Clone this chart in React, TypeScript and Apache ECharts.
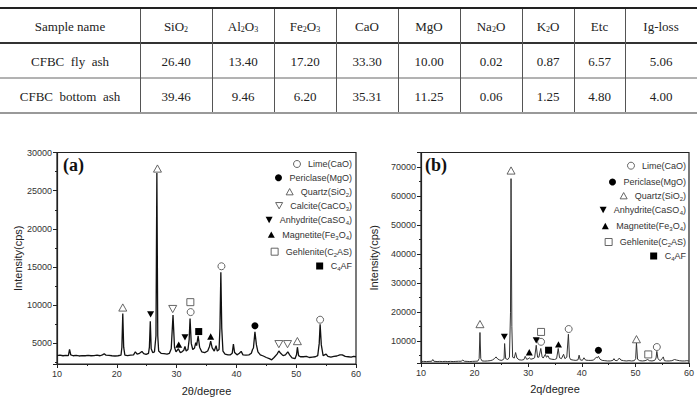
import React, { useEffect, useRef } from 'react';
import * as echarts from 'echarts';

// ---------- Table data ----------
const tableHeaders = ['Sample name', 'SiO{s|2}', 'Al{s|2}O{s|3}', 'Fe{s|2}O{s|3}', 'CaO', 'MgO', 'Na{s|2}O', 'K{s|2}O', 'Etc', 'Ig-loss'];
const sampleNames = ['CFBC  fly  ash', 'CFBC  bottom  ash'];
const flyAshValues = [26.40, 13.40, 17.20, 33.30, 10.00, 0.02, 0.87, 6.57, 5.06];
const bottomAshValues = [39.46, 9.46, 6.20, 35.31, 11.25, 0.06, 1.25, 4.80, 4.00];

// ---------- XRD patterns ----------
const patternA = [
  [10, 3400], [10.5, 3450], [11, 3380], [11.5, 3420], [11.9, 3400], [12.1, 4200], [12.3, 3500], [12.7, 3380], [13.2, 3420], [13.7, 3350],
  [14.2, 3400], [14.7, 3380], [15.2, 3420], [15.7, 3380], [16.2, 3400], [16.7, 3450], [17.2, 3380], [17.6, 3500], [17.9, 3650], [18.2, 3450],
  [18.7, 3420], [19.2, 3380], [19.7, 3350], [20.2, 3380], [20.7, 3450], [20.85, 4500], [21.0, 8900], [21.15, 4500], [21.35, 3450], [21.8, 3400],
  [22.3, 3450], [22.8, 3500], [23.1, 3900], [23.4, 3600], [23.8, 3700], [24.2, 3950], [24.5, 3650], [24.9, 3550], [25.3, 3700], [25.45, 4500],
  [25.6, 7900], [25.75, 4300], [26.0, 3800], [26.3, 3900], [26.55, 6000], [26.7, 27300], [26.85, 6000], [27.0, 4000], [27.4, 3700], [27.9, 3650],
  [28.4, 3600], [28.8, 3700], [29.1, 4300], [29.4, 8700], [29.65, 4500], [29.9, 3900], [30.3, 4300], [30.6, 3800], [30.9, 3900], [31.2, 4100],
  [31.4, 4600], [31.6, 4000], [31.9, 4200], [32.1, 5500], [32.25, 8250], [32.45, 5000], [32.7, 4200], [33.0, 4400], [33.2, 5100], [33.35, 4700],
  [33.6, 6000], [33.85, 4500], [34.2, 3900], [34.7, 3800], [35.2, 4000], [35.5, 4600], [35.7, 5300], [35.95, 4400], [36.3, 4000], [36.6, 4700],
  [36.8, 4000], [37.1, 4200], [37.25, 7000], [37.4, 14300], [37.55, 7000], [37.75, 4000], [38.1, 3600], [38.6, 3500], [39.0, 3500], [39.3, 3700],
  [39.5, 4900], [39.7, 3800], [40.1, 3500], [40.5, 3700], [40.8, 3950], [41.1, 3500], [41.6, 3450], [42.1, 3500], [42.5, 3700], [42.7, 4200],
  [42.85, 4400], [43.1, 6500], [43.35, 4800], [43.6, 3900], [44.0, 3500], [44.5, 3350], [45.0, 3150], [45.5, 3000], [45.9, 2850], [46.3, 3150],
  [46.8, 3600], [47.1, 4000], [47.4, 3700], [47.8, 3400], [48.2, 3500], [48.6, 3900], [48.9, 3500], [49.3, 3100], [49.8, 3000], [50.05, 3500],
  [50.2, 4500], [50.4, 3400], [50.7, 3250], [51.2, 3250], [51.7, 3300], [52.2, 3150], [52.7, 3200], [53.2, 3250], [53.6, 3400], [53.85, 5000],
  [54.0, 7500], [54.2, 4800], [54.5, 3400], [55.0, 3600], [55.3, 3300], [55.8, 3200], [56.3, 3300], [56.8, 3350], [57.3, 3500], [57.7, 3500],
  [58.2, 3300], [58.7, 3250], [59.2, 3200], [59.6, 3300], [60, 3250],
];

const patternB = [
  [10, 3000], [10.5, 3050], [11, 3000], [11.5, 3050], [12.0, 3100], [12.2, 3700], [12.4, 3100], [13, 3000], [13.5, 3050], [14, 3000],
  [14.5, 3050], [15, 3000], [15.5, 3050], [16, 3000], [16.5, 3050], [17, 3100], [17.5, 3100], [17.8, 3500], [18.1, 3100], [18.6, 3050],
  [19.1, 3000], [19.6, 3050], [20.1, 3100], [20.6, 3150], [20.85, 4000], [21.0, 13000], [21.15, 4000], [21.4, 3200], [21.9, 3150], [22.4, 3200],
  [22.9, 3300], [23.3, 3500], [23.7, 4000], [24.0, 4600], [24.3, 3900], [24.7, 3500], [25.1, 3400], [25.5, 4000], [25.6, 9200], [25.8, 4000],
  [26.2, 3700], [26.5, 4500], [26.7, 20000], [26.8, 66000], [26.95, 15000], [27.1, 4500], [27.4, 4200], [27.65, 6100], [27.9, 4200], [28.3, 3600],
  [28.8, 3500], [29.2, 3700], [29.45, 4800], [29.7, 3800], [30.0, 3900], [30.2, 4300], [30.5, 3800], [30.9, 4000], [31.2, 4300], [31.5, 8600],
  [31.75, 4500], [32.0, 4500], [32.35, 7500], [32.6, 4600], [32.8, 4200], [33.2, 5500], [33.4, 4500], [33.7, 5000], [33.95, 4000], [34.4, 3800],
  [34.9, 3700], [35.3, 4000], [35.6, 7500], [35.85, 4300], [36.2, 4000], [36.6, 5500], [36.85, 4000], [37.2, 4500], [37.5, 12400], [37.7, 4500],
  [37.9, 3700], [38.4, 3500], [38.9, 3400], [39.3, 3600], [39.5, 5200], [39.7, 3600], [40.1, 3400], [40.4, 4300], [40.7, 3500], [41.2, 3400],
  [41.7, 3400], [42.2, 3500], [42.7, 4500], [42.9, 4300], [43.1, 4800], [43.4, 3800], [43.8, 3400], [44.3, 3300], [44.8, 3200], [45.3, 3200],
  [45.8, 3400], [46.0, 4000], [46.2, 3400], [46.6, 3300], [47.0, 4200], [47.3, 3500], [47.8, 3300], [48.3, 3200], [48.8, 3300], [49.3, 3200],
  [49.8, 3300], [50.05, 4000], [50.2, 9400], [50.4, 3800], [50.8, 3300], [51.3, 3200], [51.8, 3300], [52.3, 3700], [52.6, 3300], [53.1, 3200],
  [53.6, 3400], [53.85, 4200], [54.0, 6500], [54.2, 4000], [54.6, 3300], [55.0, 4000], [55.2, 4600], [55.4, 3300], [55.8, 3200], [56.3, 3200],
  [56.8, 3300], [57.3, 3700], [57.7, 3500], [58.2, 3300], [58.7, 3200], [59.2, 3200], [59.6, 3300], [60, 3200],
];

// ---------- Phase markers ----------
const phaseNames = ['Lime(CaO)', 'Periclase(MgO)', 'Quartz(SiO2)', 'Calcite(CaCO3)', 'Anhydrite(CaSO4)', 'Magnetite(Fe3O4)', 'Gehlenite(C2AS)', 'C4AF'];
const phaseLabels = ['Lime(CaO)', 'Periclase(MgO)', 'Quartz(SiO{s|2})', 'Calcite(CaCO{s|3})', 'Anhydrite(CaSO{s|4})', 'Magnetite(Fe{s|3}O{s|4})', 'Gehlenite(C{s|2}AS)', 'C{s|4}AF'];

const markersA = [
  [[32.35, 9100], [37.5, 15100], [54.0, 8100]],
  [[43.1, 7300]],
  [[21.0, 9700], [26.8, 27900], [50.2, 5300]],
  [[29.35, 9500], [47.1, 4900], [48.55, 4900]],
  [[25.65, 8800], [31.4, 5800]],
  [[30.35, 4850], [35.7, 5900]],
  [[32.3, 10400]],
  [[33.7, 6550]],
];
const markersB = [
  [[32.4, 9800], [37.55, 14200], [54.0, 8000]],
  [[43.1, 6900]],
  [[21.0, 15900], [26.8, 68800], [50.2, 10700]],
  [],
  [[25.55, 11500], [31.5, 10300]],
  [[30.2, 6200], [35.65, 8900]],
  [[32.4, 13200], [52.4, 5450]],
  [[33.8, 6900]],
];
const phasesInB = [true, true, true, false, true, true, true, true];

// ---------- styling (not data) ----------
const SANS = '"Liberation Sans", Arial, sans-serif';
const SERIF = '"Liberation Serif", "Times New Roman", serif';
const TRI_UP = 'path://M5,0L10,9L0,9Z';
const TRI_DOWN = 'path://M0,0L10,0L5,9Z';
const phaseStyle = [
  { symbol: 'circle', size: 7, hollow: true },
  { symbol: 'circle', size: 7, hollow: false },
  { symbol: TRI_UP, size: 8, hollow: true },
  { symbol: TRI_DOWN, size: 8, hollow: true },
  { symbol: TRI_DOWN, size: 7, hollow: false },
  { symbol: TRI_UP, size: 7, hollow: false },
  { symbol: 'rect', size: 7, hollow: true },
  { symbol: 'rect', size: 7, hollow: false },
];

function buildTable(): any[] {
  const colX = [0, 140, 212, 274, 336, 398, 460, 522, 574, 625, 697];
  const rowY = [8, 43, 78, 113];
  const els: any[] = [];
  const hline = (y: number, w: number, c: string) => els.push({
    type: 'line', silent: true, shape: { x1: 0, y1: y, x2: 697, y2: y }, style: { stroke: c, lineWidth: w },
  });
  hline(8, 2, '#222');
  hline(43, 2, '#333');
  hline(78, 1, '#666');
  hline(113, 2, '#999');
  for (let i = 1; i < colX.length - 1; i++) {
    els.push({ type: 'line', silent: true, shape: { x1: colX[i] + 0.5, y1: 9, x2: colX[i] + 0.5, y2: 112 }, style: { stroke: '#555', lineWidth: 1 } });
  }
  const rich = { s: { fontSize: 8, fontFamily: SERIF, fill: '#222', verticalAlign: 'bottom', lineHeight: 8 } };
  const txt = (text: string, col: number, row: number) => els.push({
    type: 'text', silent: true,
    x: (colX[col] + colX[col + 1]) / 2, y: (rowY[row] + rowY[row + 1]) / 2 + 0.5,
    style: {
      text, rich, fontSize: 13, fontFamily: SERIF, fill: '#222', lineHeight: 15,
      align: 'center', verticalAlign: 'middle', textAlign: 'center', textVerticalAlign: 'middle',
    },
  });
  tableHeaders.forEach((h, i) => txt(h, i, 0));
  sampleNames.forEach((n, r) => txt(n, 0, r + 1));
  flyAshValues.forEach((v, i) => txt(v.toFixed(2), i + 1, 1));
  bottomAshValues.forEach((v, i) => txt(v.toFixed(2), i + 1, 2));
  return els;
}

function axisCommon() {
  return {
    axisLine: { show: true, lineStyle: { color: '#222', width: 1.2 } },
    axisTick: { show: true, length: 4, lineStyle: { color: '#222', width: 1 } },
    minorTick: { show: true, splitNumber: 2, length: 2, lineStyle: { color: '#222', width: 1 } },
    splitLine: { show: false },
    axisLabel: { fontSize: 9, fontFamily: SANS, color: '#333', margin: 5 },
    nameTextStyle: { fontSize: 11, fontFamily: SANS, color: '#222' },
  };
}

export default function App() {
  const ref = useRef<HTMLDivElement>(null);
  useEffect(() => {
    document.body.style.margin = '0';
    const chart = echarts.init(ref.current!, null, { renderer: 'svg' });
    const series: any[] = [];
    series.push({
      type: 'line', name: 'patternA', xAxisIndex: 0, yAxisIndex: 0, data: patternA, showSymbol: false,
      lineStyle: { color: '#111', width: 1.3 }, silent: true, z: 2,
    });
    series.push({
      type: 'line', name: 'patternB', xAxisIndex: 1, yAxisIndex: 1, data: patternB, showSymbol: false,
      lineStyle: { color: '#333', width: 1 }, silent: true, z: 2,
    });
    const mk = (gi: number, i: number, data: any[]) => {
      const st = phaseStyle[i];
      return {
        type: 'scatter', name: phaseNames[i], xAxisIndex: gi, yAxisIndex: gi, data,
        symbol: st.symbol, symbolSize: st.size, symbolKeepAspect: true, z: 3,
        itemStyle: st.hollow ? { color: '#fff', borderColor: '#555', borderWidth: 0.9, opacity: 1 } : { color: '#000', opacity: 1 },
      };
    };
    markersA.forEach((d, i) => series.push(mk(0, i, d)));
    markersB.forEach((d, i) => { if (phasesInB[i]) series.push(mk(1, i, d)); });

    const legendRowsA = [164, 177.7, 191.7, 205.7, 220, 234.7, 251.7, 266];
    const legendRowsB = [165.7, 182, 195.7, 210, 226, 242, 256];
    const labelOf = (name: string) => ' ' + phaseLabels[phaseNames.indexOf(name)];
    const legendText = {
      fontSize: 9, fontFamily: SANS, color: '#333', lineHeight: 12,
      rich: { s: { fontSize: 6, fontFamily: SANS, color: '#333', verticalAlign: 'bottom', lineHeight: 6 } },
    };
    const legendItem = (n: string) => {
      const st = phaseStyle[phaseNames.indexOf(n)];
      return {
        name: n, icon: st.symbol,
        itemStyle: st.hollow ? { color: '#fff', borderColor: '#555', borderWidth: 0.9 } : { color: '#000', borderWidth: 0 },
      };
    };
    const legends: any[] = [];
    phaseNames.forEach((n, i) => legends.push({
      data: [legendItem(n)], right: 345, top: legendRowsA[i] - 6, orient: 'vertical', padding: 0, itemGap: 0,
      itemWidth: 7, itemHeight: 7, selectedMode: false, formatter: labelOf, textStyle: legendText,
    }));
    phaseNames.filter((_, i) => phasesInB[i]).forEach((n, j) => legends.push({
      data: [legendItem(n)], right: 11, top: legendRowsB[j] - 6, orient: 'vertical', padding: 0, itemGap: 0,
      itemWidth: 7, itemHeight: 7, selectedMode: false, formatter: labelOf, textStyle: legendText,
    }));

    const option: any = {
      animation: false,
      backgroundColor: '#fff',
      grid: [
        { left: 57, top: 152.5, right: 341, bottom: 35.5, show: true, borderColor: '#222', borderWidth: 1.2, backgroundColor: 'transparent' },
        { left: 421, top: 152.5, right: 6.5, bottom: 38, show: true, borderColor: '#222', borderWidth: 1.2, backgroundColor: 'transparent' },
      ],
      xAxis: [
        { ...axisCommon(), type: 'value', gridIndex: 0, min: 10, max: 60, interval: 10, name: '2θ/degree', nameLocation: 'middle', nameGap: 21 },
        { ...axisCommon(), type: 'value', gridIndex: 1, min: 10, max: 60, interval: 10, name: '2q/degree', nameLocation: 'middle', nameGap: 20 },
      ],
      yAxis: [
        {
          ...axisCommon(), type: 'value', gridIndex: 0, min: 2300, max: 30000, minInterval: 5000, maxInterval: 5000,
          name: 'Intensity(cps)', nameLocation: 'middle', nameGap: 33,
          axisLabel: { ...axisCommon().axisLabel, formatter: (v: number) => (v % 5000 === 0 ? String(v) : '') },
        },
        {
          ...axisCommon(), type: 'value', gridIndex: 1, min: 2500, max: 75000, minInterval: 10000, maxInterval: 10000,
          name: 'Intensity(cps)', nameLocation: 'middle', nameGap: 42,
          axisLabel: { ...axisCommon().axisLabel, formatter: (v: number) => (v % 10000 === 0 ? String(v) : '') },
        },
      ],
      legend: legends,
      series,
      graphic: [
        ...buildTable(),
        { type: 'text', silent: true, x: 63, y: 165, style: { text: '(a)', fontSize: 18, fontWeight: 'bold', fontFamily: SERIF, fill: '#111', verticalAlign: 'middle', textVerticalAlign: 'middle' } },
        { type: 'text', silent: true, x: 425, y: 165, style: { text: '(b)', fontSize: 18, fontWeight: 'bold', fontFamily: SERIF, fill: '#111', verticalAlign: 'middle', textVerticalAlign: 'middle' } },
      ],
    };
    chart.setOption(option);
    return () => chart.dispose();
  }, []);
  return <div ref={ref} style={{ width: 697, height: 401 }} />;
}
